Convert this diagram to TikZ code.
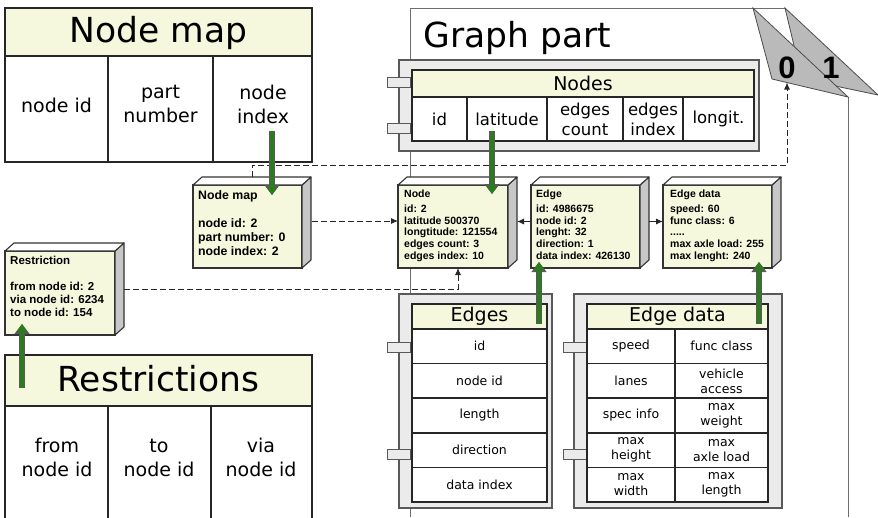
\documentclass[tikz,border=0pt]{standalone}
\usepackage{fontspec}
\setmainfont{DejaVu Sans}
\newfontfamily\recfont{Liberation Sans}
\usetikzlibrary{arrows.meta}
\definecolor{cream}{RGB}{246,248,222}
\definecolor{arrowgreen}{RGB}{46,122,32}
\definecolor{framegray}{RGB}{110,110,110}
\newcommand{\fsz}[2]{\fontsize{#1}{#2}\selectfont}

\tikzset{
	tbl/.style={draw=black!85, line width=1.6pt},
	band/.style={tbl, fill=cream},
	holder/.style={draw=black!65, line width=1.2pt, fill=black!8},
	porttab/.style={draw=black!65, line width=1pt, fill=black!8},
	recbox/.style={draw=black!80, line width=1.1pt, fill=cream, inner sep=0pt, outer sep=0pt, minimum height=83},
	boxtxt/.style={anchor=north west, align=left, inner sep=0pt, font=\recfont\bfseries\fsz{10.5}{11.7}},
	bigtitle/.style={font=\fsz{34.5}{40}},
	midtitle/.style={font=\fsz{19}{23}},
	celltxt/.style={align=center, font=\fsz{19}{24}},
	nodecell/.style={align=center, font=\fsz{16.5}{20}},
	smallcell/.style={align=center, font=\fsz{12.5}{15}},
	greenarrow/.style={draw=arrowgreen, line width=4pt, -{Triangle[width=11pt,length=8pt]},
		preaction={draw=black!65, line width=6pt, -{Triangle[width=14.5pt,length=10pt]}}},
	link/.style={draw=black!85, line width=0.9pt, dash pattern=on 6pt off 3pt, -{Latex[length=7pt,width=6pt]}},
	solidlink/.style={draw=black!85, line width=0.9pt, -{Latex[length=7pt,width=6pt]}},
}

\begin{document}
\begin{tikzpicture}[x=1pt,y=-1pt]
	\useasboundingbox (0,0) rectangle (878,517);
	
	%----------------------------
	% Graph part frame with page tabs
	%----------------------------
	\draw[framegray, line width=0.9pt] (410,517) -- (410,8) -- (785,8);
	\draw[framegray, line width=0.9pt] (848,97) -- (848,517);
	\draw[draw=black!70, fill=black!27, line width=0.8pt]
	(785,8) -- (802,79) -- (878,95) -- cycle;
	\draw[draw=black!70, fill=black!27, line width=0.8pt]
	(753,8) -- (772,79) -- (848,97) -- cycle;
	\node[font=\recfont\bfseries\fsz{31}{31}] (page0) at (787,68) {0};
	\node[font=\recfont\bfseries\fsz{31}{31}] (page1) at (831,68) {1};
	\node[bigtitle] (gptitle) at (517.5,38) {Graph part};
	
	%----------------------------
	% Node map table
	%----------------------------
	\draw[band] (5,8) rectangle (312,56);
	\draw[tbl, fill=white] (5,56) rectangle (312,162) (108,56) -- (108,162) (213,56) -- (213,162);
	\node[bigtitle] (nmtitle) at (158.5,33) {Node map};
	\node[celltxt] (nmid) at (56.5,105) {node id};
	\node[celltxt] (nmpart) at (160.5,104) {part\\number};
	\node[celltxt] (nmidx) at (263,104) {node\\index};
	
	%----------------------------
	% Restrictions table
	%----------------------------
	\draw[band] (5,355) rectangle (312,406);
	\draw[tbl, fill=white] (5,406) rectangle (312,530) (108,406) -- (108,530) (211,406) -- (211,530);
	\node[bigtitle] (rtitle) at (158.5,379) {Restrictions};
	\node[celltxt] (rfrom) at (57,457.5) {from\\node id};
	\node[celltxt] (rto) at (159,457.5) {to\\node id};
	\node[celltxt] (rvia) at (261,457.5) {via\\node id};
	
	%----------------------------
	% Nodes table
	%----------------------------
	\draw[holder] (399,60) rectangle (759,151);
	\foreach \y in {77,123}
	\draw[porttab] (387,\y) rectangle (410,{\y+10.5});
	\draw[band] (412,70) rectangle (754,97);
	\draw[tbl, fill=white] (412,97) rectangle (754,141);
	\foreach \x in {467,547,623,683}
	\draw[tbl] (\x,97) -- (\x,141);
	\node[midtitle] (ndtitle) at (583,83.5) {Nodes};
	\node[nodecell] (nid) at (439.5,119) {id};
	\node[nodecell] (lat) at (507,119) {latitude};
	\node[nodecell] (ncount) at (585,119) {edges\\count};
	\node[nodecell] (nindex) at (653,119) {edges\\index};
	\node[nodecell] (nlong) at (718.5,119) {longit.};
	
	%----------------------------
	% Edges table
	%----------------------------
	\draw[holder] (399,294) rectangle (552,508);
	\foreach \y in {342,449}
	\draw[porttab] (387,\y) rectangle (410,{\y+10.5});
	\draw[band] (412,304) rectangle (547,329);
	\draw[tbl, fill=white] (412,329) rectangle (547,502);
	\foreach \y in {363.6,398.2,432.8,467.4}
	\draw[tbl] (412,\y) -- (547,\y);
	\node[midtitle] (edtitle) at (479.5,316.5) {Edges};
	\foreach \t [count=\i] in {id,node id,length,direction,data index}
	\node[smallcell] (edrow\i) at (479.5,{329+34.6*(\i-0.5)}) {\t};
	
	%----------------------------
	% Edge data table
	%----------------------------
	\draw[holder] (574,294) rectangle (782,508);
	\foreach \y in {342,449}
	\draw[porttab] (563,\y) rectangle (587,{\y+10.5});
	\draw[band] (587,304) rectangle (768,329);
	\draw[tbl, fill=white] (587,329) rectangle (768,502) (675,329) -- (675,502);
	\foreach \y in {363.6,398.2,432.8,467.4}
	\draw[tbl] (587,\y) -- (768,\y);
	\node[midtitle] (datitle) at (677.5,316.5) {Edge data};
	\foreach \a/\b [count=\i] in {speed/func class, lanes/{vehicle\\access},
		spec info/{max\\weight}, {max\\height}/{max\\axle load}, {max\\width}/{max\\length}}
	{
		\node[smallcell] (dal\i) at (631,{329+34.6*(\i-0.5)}) {\a};
		\node[smallcell] (dar\i) at (721.5,{329+34.6*(\i-0.5)}) {\b};
	}
	
	%----------------------------
	% Record boxes
	%----------------------------
	\node[recbox, minimum width=109] (nmbox) at (247.5,226.5) {};
	\node[recbox, minimum width=110, minimum height=84] (rbox) at (60,293) {};
	\node[recbox, minimum width=110] (nodebox) at (453,226.5) {};
	\node[recbox, minimum width=109] (edgebox) at (585.5,226.5) {};
	\node[recbox, minimum width=109] (databox) at (717.5,226.5) {};
	
	% side and top faces
	\foreach \b in {nmbox,rbox,nodebox,edgebox,databox}
	{
		\draw[draw=black!80, line width=1.1pt, fill=black!22, line join=round]
		(\b.north east) -- ++(9,-8) -- ([shift={(9,-8)}]\b.south east) -- (\b.south east) -- cycle;
		\draw[draw=black!80, line width=1.1pt, fill=white, line join=round]
		(\b.north west) -- ++(9,-8) -- ([shift={(9,-8)}]\b.north east) -- (\b.north east) -- cycle;
	}
	
	\node[boxtxt, font=\recfont\bfseries\fsz{12.3}{14}] (nmtxt) at ([shift={(5,5)}]nmbox.north west)
	{Node map\\[14pt]node id: 2\\part number: 0\\node index: 2};
	\node[boxtxt, font=\recfont\bfseries\fsz{11.5}{13}] (rtxt) at ([shift={(5,5)}]rbox.north west)
	{Restriction\\[13pt]from node id: 2\\via node id: 6234\\to node id: 154};
	\node[boxtxt] (nodetxt) at ([shift={(6,5)}]nodebox.north west)
	{Node\\[3pt]id: 2\\latitude 500370\\longtitude: 121554\\edges count: 3\\edges index: 10};
	\node[boxtxt] (edgetxt) at ([shift={(5,5)}]edgebox.north west)
	{Edge\\[3pt]id: 4986675\\node id: 2\\lenght: 32\\direction: 1\\data index: 426130};
	\node[boxtxt] (datatxt) at ([shift={(7,5)}]databox.north west)
	{Edge data\\[3pt]speed: 60\\func class: 6\\.....\\max axle load: 255\\max lenght: 240};
	
	%----------------------------
	% Links
	%----------------------------
	\draw[link] ([shift={(10,-5.5)}]nmbox.east) -- ([shift={(0,-5.5)}]nodebox.west);
	\draw[link] ([shift={(4.5,-8)}]nmbox.north) -- ++(0,-12) -| (page0.south);
	\draw[link] ([shift={(9,-4)}]rbox.east) -| ([shift={(5,0)}]nodebox.south);
	\draw[solidlink] ([shift={(0,-5)}]edgebox.west) -- ([shift={(9,-5)}]nodebox.east);
	\draw[solidlink] ([shift={(9,-5)}]edgebox.east) -- ([shift={(0,-5)}]databox.west);
	
	% green arrows: table -> record
	\draw[greenarrow] ([shift={(9,27)}]nmidx.center) -- ([shift={(24.5,10)}]nmbox.north);
	\draw[greenarrow] ([shift={(-15,12)}]lat.center) -- ([shift={(39,9)}]nodebox.north);
	\draw[greenarrow] ([shift={(59.5,7.5)}]edtitle.center) -- ([shift={(-46.5,-6)}]edgebox.south);
	\draw[greenarrow] ([shift={(81.5,7.5)}]datitle.center) -- ([shift={(41.5,-6)}]databox.south);
	\draw[greenarrow] ([shift={(-136.5,9)}]rtitle.center) -- ([shift={(-38,-11)}]rbox.south);
	
\end{tikzpicture}
\end{document}
